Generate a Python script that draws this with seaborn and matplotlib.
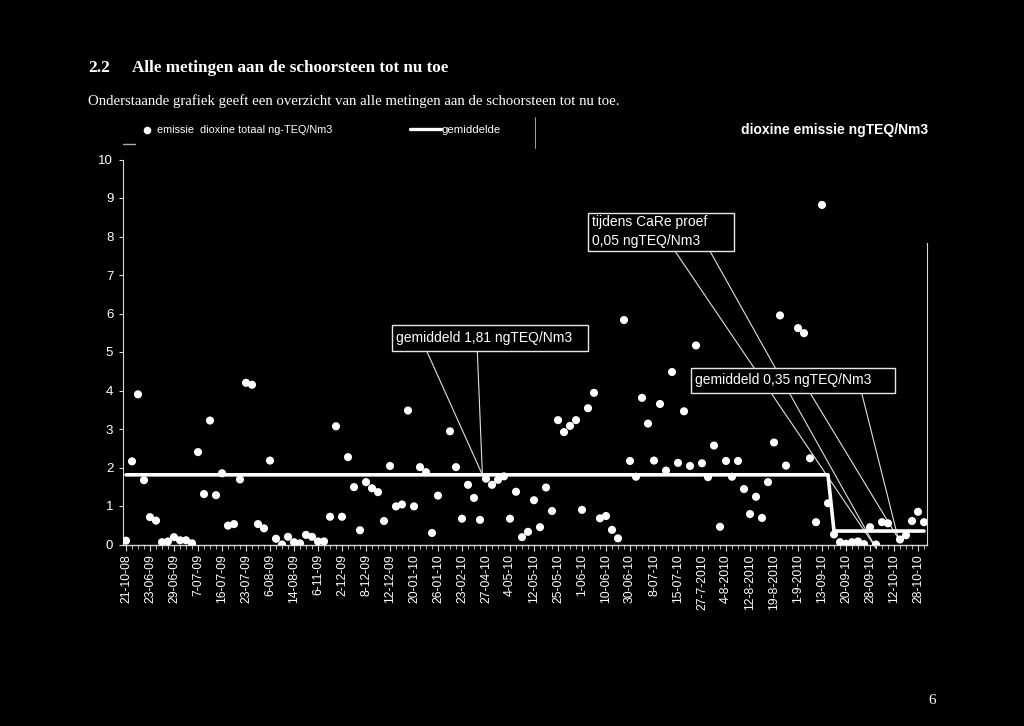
import numpy as np
import pandas as pd
import matplotlib.pyplot as plt
from matplotlib.lines import Line2D
from matplotlib.patches import Rectangle
import seaborn as sns

# =============================================================================
# DATA (values in ng TEQ/Nm3)
# =============================================================================

# tick labels, one per 4 measurements
datums = [
    "21-10-08", "23-06-09", "29-06-09", "7-07-09", "16-07-09", "23-07-09",
    "6-08-09", "14-08-09", "6-11-09", "2-12-09", "8-12-09", "12-12-09",
    "20-01-10", "26-01-10", "23-02-10", "27-04-10", "4-05-10", "12-05-10",
    "25-05-10", "1-06-10", "10-06-10", "30-06-10", "8-07-10", "15-07-10",
    "27-7-2010", "4-8-2010", "12-8-2010", "19-8-2010", "1-9-2010",
    "13-09-10", "20-09-10", "28-09-10", "12-10-10", "28-10-10",
]

nan = np.nan
emissie = [
    0.10, 2.16, 3.90, 1.67, 0.71, 0.62, 0.06, 0.08, 0.19, 0.11,
    0.11, 0.03, 2.40, 1.31, 3.22, 1.28, 1.85, 0.49, 0.53, 1.69,
    4.20, 4.15, 0.53, 0.42, 2.18, 0.15, 0.00, 0.20, 0.06, 0.03,
    0.25, 0.20, 0.08, 0.08, 0.72, 3.07, 0.72, 2.27, 1.49, 0.37,
    1.62, 1.46, 1.36, 0.61, 2.04, 0.99, 1.04, 3.48, 0.99, 2.01,
    1.88, 0.30, 1.27, nan, 2.94, 2.01, 0.67, 1.55, 1.21, 0.64,
    1.71, 1.55, 1.68, 1.77, 0.67, 1.37, 0.19, 0.33, 1.15, 0.45,
    1.48, 0.87, 3.23, 2.92, 3.08, 3.23, 0.90, 3.54, 3.94, 0.68,
    0.74, 0.38, 0.16, 5.83, 2.17, 1.76, 3.81, 3.14, 2.18, 3.65,
    1.92, 4.48, 2.12, 3.46, 2.04, 5.17, 2.11, 1.75, 2.57, 0.46,
    2.17, 1.76, 2.17, 1.44, 0.79, 1.24, 0.69, 1.62, 2.65, 5.95,
    2.05, nan, 5.62, 5.49, 2.24, 0.58, 8.82, 1.07, 0.26, 0.06,
    0.02, 0.06, 0.08, 0.01, 0.45, 0.00, 0.58, 0.55, nan, 0.13,
    0.24, 0.61, 0.85, 0.58,
]

# average before / during the CaRe trial
gemiddeld_voor = 1.81
gemiddeld_na = 0.35
n_voor = 118   # measurements before the switch
n_na = 16      # measurements after

gemiddelde = [gemiddeld_voor] * n_voor + [gemiddeld_na] * n_na

df = pd.DataFrame({"meting": np.arange(len(emissie)),
                   "emissie": emissie,
                   "gemiddelde": gemiddelde})

# =============================================================================
# STYLE
# =============================================================================

sns.set_theme(style="ticks", rc={
    "figure.facecolor": "black",
    "axes.facecolor": "black",
    "axes.edgecolor": "#d8d8d8",
    "xtick.color": "#d8d8d8",
    "ytick.color": "#d8d8d8",
    "text.color": "white",
})
plt.rcParams["font.family"] = ["Liberation Sans", "DejaVu Sans"]

W, H = 1024, 726
fig = plt.figure(figsize=(W / 100, H / 100), dpi=100)


def fx(px):
    return px / W


def fy(py):
    return 1 - py / H


ax = fig.add_axes([fx(123), fy(544.5), (927 - 123) / W, (544.5 - 159.5) / H])

# points
sns.scatterplot(data=df, x="meting", y="emissie", color="white", s=34,
                edgecolor="none", linewidth=0, zorder=4, ax=ax, legend=False)

# average line
sns.lineplot(data=df, x="meting", y="gemiddelde", color="white", lw=2.6,
             zorder=3, ax=ax, legend=False)

ax.set_xlim(-0.5, len(emissie) - 0.5)
ax.set_ylim(0, 10)
ax.set_xlabel("")
ax.set_ylabel("")

ax.set_xticks(np.arange(0, len(emissie), 4))
ax.set_xticklabels(datums, rotation=90, fontsize=8.8, color="white")
ax.set_xticks(np.arange(len(emissie)), minor=True)
ax.tick_params(axis="x", which="major", length=4, width=0.8, pad=3)
ax.tick_params(axis="x", which="minor", length=3, width=0.6)
ax.set_yticks(range(0, 11))
ax.tick_params(axis="y", length=3, width=0.8, pad=4, labelsize=9.5,
               labelcolor="white")

sns.despine(ax=ax, top=True, right=False)
ax.spines["right"].set_bounds(0, 7.83)
ax.spines["right"].set_linewidth(0.8)
ax.spines["left"].set_linewidth(0.8)
ax.spines["bottom"].set_linewidth(1.0)

# =============================================================================
# CALLOUTS
# =============================================================================

lead = dict(color="#e0e0e0", lw=0.8, clip_on=False, zorder=2)

# 1,81 average
ax.plot([50.1, 59.4], [5.03, 1.81], **lead)
ax.plot([58.55, 59.4], [5.03, 1.81], **lead)
ax.add_patch(Rectangle((44.33, 5.03), 77 - 44.33, 5.70 - 5.03,
                       fc="black", ec="#e8e8e8", lw=1.0, zorder=5))
ax.text(45.0, 5.37, "gemiddeld 1,81 ngTEQ/Nm3", fontsize=10,
        va="center", ha="left", zorder=6)

# CaRe trial
ax.plot([91.5, 125.0], [7.62, -0.09], **lead)
ax.plot([97.33, 125.0], [7.62, -0.09], **lead)
ax.add_patch(Rectangle((77.05, 7.62), 101.4 - 77.05, 8.62 - 7.62,
                       fc="black", ec="#e8e8e8", lw=1.0, zorder=5))
ax.text(77.7, 8.37, "tijdens CaRe proef", fontsize=10,
        va="center", ha="left", zorder=6)
ax.text(77.7, 7.88, "0,05 ngTEQ/Nm3", fontsize=10,
        va="center", ha="left", zorder=6)

# 0,35 average
ax.plot([114.0, 128.7], [3.94, 0.16], **lead)
ax.plot([122.6, 128.7], [3.94, 0.16], **lead)
ax.add_patch(Rectangle((94.1, 3.94), 128.2 - 94.1, 4.58 - 3.94,
                       fc="black", ec="#e8e8e8", lw=1.0, zorder=5))
ax.text(94.8, 4.27, "gemiddeld 0,35 ngTEQ/Nm3", fontsize=10,
        va="center", ha="left", zorder=6)

# =============================================================================
# PAGE TEXT, LEGEND
# =============================================================================

serif = ["Liberation Serif", "DejaVu Serif"]
fig.text(fx(88), fy(68), "2.2", family=serif, fontsize=12.5,
         fontweight="bold", va="center")
fig.text(fx(132), fy(68), "Alle metingen aan de schoorsteen tot nu toe",
         family=serif, fontsize=12.3, fontweight="bold", va="center")
fig.text(fx(88), fy(101),
         "Onderstaande grafiek geeft een overzicht van alle metingen aan de "
         "schoorsteen tot nu toe.",
         family=serif, fontsize=10.6, va="center")

fig.add_artist(Line2D([fx(147)], [fy(130)], marker="o", ms=5.5,
                      color="white", mec="none", lw=0))
fig.text(fx(157), fy(130), "emissie  dioxine totaal ng-TEQ/Nm3",
         fontsize=7.8, va="center")
fig.add_artist(Line2D([fx(410), fx(441)], [fy(129), fy(129)],
                      color="white", lw=2.4))
fig.text(fx(441), fy(130), "gemiddelde", fontsize=8.2, va="center")
fig.add_artist(Line2D([fx(535), fx(535)], [fy(117), fy(148)],
                      color="#bbbbbb", lw=0.6))
fig.add_artist(Line2D([fx(123), fx(135)], [fy(144), fy(144)],
                      color="#aaaaaa", lw=1.0))

fig.text(fx(928), fy(130), "dioxine emissie ngTEQ/Nm3", fontsize=10,
         fontweight="bold", ha="right", va="center")

fig.text(fx(932), fy(700), "6", family=serif, fontsize=11, ha="center",
         va="center")

fig.savefig("out.png", dpi=100, facecolor="black")
